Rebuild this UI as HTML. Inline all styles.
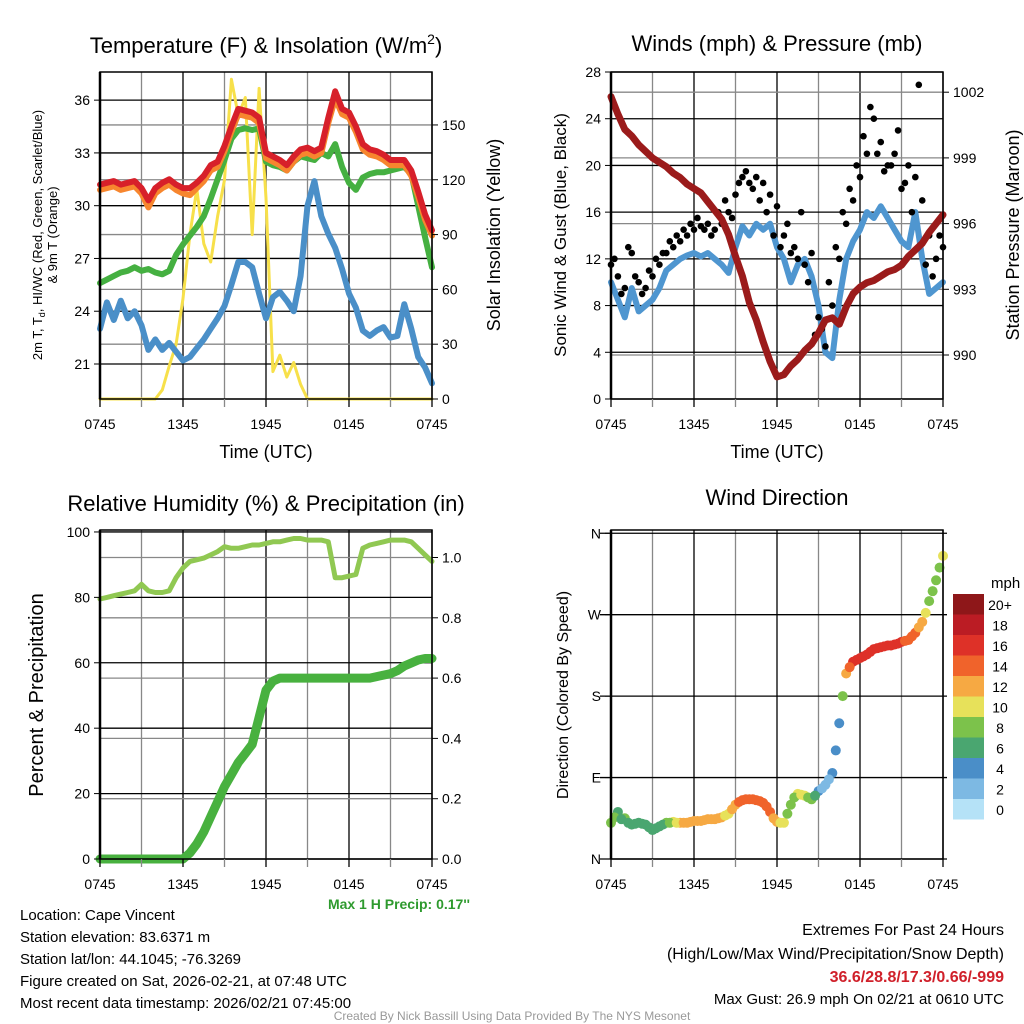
<!DOCTYPE html>
<html><head><meta charset="utf-8"><style>
body{margin:0;background:#fff;}
svg{display:block;font-family:"Liberation Sans",sans-serif;}
</style></head><body>
<svg id="c" width="1024" height="1024" viewBox="0 0 1024 1024" xmlns="http://www.w3.org/2000/svg">
<g id="g"></g>
<text x="266" y="53" font-size="22" text-anchor="middle">Temperature (F) &amp; Insolation (W/m<tspan dy="-9" font-size="14">2</tspan><tspan dy="9">)</tspan></text>
<text x="777" y="51" font-size="22" text-anchor="middle">Winds (mph) &amp; Pressure (mb)</text>
<text x="266" y="511" font-size="22" text-anchor="middle">Relative Humidity (%) &amp; Precipitation (in)</text>
<text x="777" y="505" font-size="22" text-anchor="middle">Wind Direction</text>
<text x="266" y="458" font-size="18" text-anchor="middle">Time (UTC)</text>
<text x="777" y="458" font-size="18" text-anchor="middle">Time (UTC)</text>
<text transform="translate(42,235) rotate(-90)" font-size="13" text-anchor="middle">2m T, T<tspan dy="3" font-size="9">d</tspan><tspan dy="-3">, HI/WC (Red, Green, Scarlet/Blue)</tspan></text>
<text transform="translate(57,235) rotate(-90)" font-size="13" text-anchor="middle">&amp; 9m T (Orange)</text>
<text transform="translate(500,235) rotate(-90)" font-size="18" text-anchor="middle">Solar Insolation (Yellow)</text>
<text transform="translate(566,235) rotate(-90)" font-size="17" text-anchor="middle">Sonic Wind &amp; Gust (Blue, Black)</text>
<text transform="translate(1019,235) rotate(-90)" font-size="18" text-anchor="middle">Station Pressure (Maroon)</text>
<text transform="translate(43,695) rotate(-90)" font-size="20" text-anchor="middle">Percent &amp; Precipitation</text>
<text transform="translate(568,695) rotate(-90)" font-size="16" text-anchor="middle">Direction (Colored By Speed)</text>
<text x="470" y="909" font-size="14" font-weight="bold" fill="#2e9a2e" text-anchor="end">Max 1 H Precip: 0.17''</text>
<g font-size="15">
<text x="20" y="920">Location: Cape Vincent</text>
<text x="20" y="942">Station elevation: 83.6371 m</text>
<text x="20" y="964">Station lat/lon: 44.1045; -76.3269</text>
<text x="20" y="986">Figure created on Sat, 2026-02-21, at 07:48 UTC</text>
<text x="20" y="1008">Most recent data timestamp: 2026/02/21 07:45:00</text>
</g>
<g font-size="16" text-anchor="end">
<text x="1004" y="935">Extremes For Past 24 Hours</text>
<text x="1004" y="959">(High/Low/Max Wind/Precipitation/Snow Depth)</text>
<text x="1004" y="982" fill="#d0202a" font-weight="bold">36.6/28.8/17.3/0.66/-999</text>
<text x="1004" y="1004" font-size="15">Max Gust: 26.9 mph On 02/21 at 0610 UTC</text>
</g>
<text x="512" y="1020" font-size="12" fill="#999" text-anchor="middle">Created By Nick Bassill Using Data Provided By The NYS Mesonet</text>
<text x="991" y="588" font-size="15">mph</text>
</svg>
<script>
const timeLabels=["0745","1345","1945","0145","0745"];
const tempRed=[31.2,31.3,31.4,31.2,31.3,31.4,31.0,30.3,31.0,31.3,31.5,31.2,31.0,31.0,31.3,31.7,32.3,32.5,33.4,34.5,35.5,35.4,35.3,35.0,33.0,32.8,32.6,32.3,32.8,33.2,33.3,33.1,33.3,35.0,36.5,35.5,35.3,34.5,33.5,33.2,33.1,32.9,32.6,32.6,32.6,32.0,30.8,29.5,28.6];
const tempOrange=[30.9,31.0,31.1,30.9,31.0,31.1,30.7,29.9,30.7,31.0,31.2,30.9,30.7,30.6,31.0,31.4,32.0,32.2,33.1,34.2,35.2,35.1,35.0,34.7,32.7,32.5,32.3,32.0,32.5,32.9,33.0,32.8,33.0,34.7,36.1,35.2,35.0,34.2,33.2,32.9,32.8,32.6,32.3,32.3,32.3,31.7,30.5,29.2,28.3];
const dewGreen=[25.6,25.8,26.0,26.2,26.3,26.5,26.3,26.4,26.2,26.1,26.3,27.2,27.8,28.3,28.8,29.4,30.4,31.5,32.6,33.8,34.3,34.4,34.3,34.4,32.5,32.3,32.2,32.0,32.5,32.8,32.7,32.6,33.0,32.8,33.5,32.2,31.3,30.9,31.6,31.8,31.9,31.9,32.0,32.1,32.2,31.8,30.0,28.2,26.5];
const windChill=[23.0,24.5,23.5,24.6,23.6,24.0,23.2,21.8,22.4,21.8,22.2,21.7,21.2,21.4,21.9,22.4,23.0,23.6,24.3,25.5,26.8,26.8,26.5,25.0,23.6,24.8,25.1,24.6,24.0,26.0,30.0,31.4,29.4,28.4,27.6,26.4,25.0,24.2,22.9,22.6,22.9,23.1,22.5,22.6,24.4,23.0,21.4,20.8,19.9];
const insolation=[0,0,0,0,0,0,0,0,0,5,18,30,55,90,115,85,75,100,120,175,155,165,90,170,110,15,24,12,20,8,0,0,0,0,0,0,0,0,0,0,0,0,0,0,0,0,0,0,0];
const windSpeed=[10.0,8.5,7.0,9.5,7.5,8.0,8.5,9.5,11.0,11.5,12.0,12.3,12.5,12.2,12.5,12.0,11.5,10.8,13.0,14.8,14.0,15.0,14.5,15.0,13.0,12.0,10.0,11.5,12.0,10.5,8.0,4.0,3.5,8.5,12.0,13.5,14.5,16.0,15.5,16.5,15.5,14.5,13.5,13.0,16.0,12.0,9.0,9.5,10.0];
const gustA=[11.5,10.5,9.5,12.5,10,9.5,10.5,11.5,12.5,13,13.5,14,14.5,14.8,15,14.5,15,16,17.5,19,18.5,19,18.5,17.5,16.5,14,12.5,12,11.5,12.5,7,4.5,8,12,15,17,19,21,24,22,20,21,18,20,19,17,14,12,13];
const gustB=[12,9,13,10.5,9,11,12,12.5,13.5,14,14.5,15,15.5,14.5,14,16,17,15.5,18.5,19.5,18,17,16,14,13,15,13,16,10,5.5,6,10,13,16,18,20,22.5,25,21,19.5,20,23,18.5,16,26.9,11.5,10.5,14];
const pressure=[1001.8,1001.0,1000.3,1000.0,999.6,999.3,999.0,998.8,998.6,998.3,998.1,997.8,997.6,997.4,997.0,996.6,996.2,995.5,994.5,993.6,992.4,991.6,990.6,989.7,989.0,989.1,989.5,989.8,990.2,990.5,991.0,991.6,991.7,991.4,992.2,992.8,993.1,993.3,993.4,993.6,993.8,993.9,994.1,994.5,994.8,995.1,995.6,996.0,996.4];
const relHum=[79.5,80,80.5,81,81.5,82,84,82,81.5,81.5,82,86,89,91,91.5,92,93,94,95.5,95,95,95.5,96,96,96.5,97,97,97.5,98,98,97.5,97.5,97.5,97,86,86,86.5,87,95,96,96.5,97,97.5,97.5,97.5,97,95,93,91];
const precip=[0,0,0,0,0,0,0,0,0,0,0,0,0,0.02,0.05,0.09,0.14,0.19,0.24,0.28,0.32,0.35,0.38,0.47,0.56,0.59,0.6,0.6,0.6,0.6,0.6,0.6,0.6,0.6,0.6,0.6,0.6,0.6,0.6,0.6,0.605,0.61,0.615,0.625,0.64,0.65,0.66,0.665,0.665];
const windDir=[40,52,45,38,40,38,32,36,40,41,40,40,42,42,44,44,46,50,60,65,66,65,62,52,41,40,60,72,70,66,75,82,95,150,205,218,222,226,232,234,236,237,240,242,250,262,285,308,335];
const windDirB=[46,44,40,39,39,35,34,38,40,40,40,41,42,43,44,45,48,55,63,66,66,64,58,45,40,50,68,71,68,70,78,88,120,180,212,220,224,229,233,235,236,238,241,246,256,272,296,322];
const dirSpeed=[9,7,8,7,6.5,7,7.5,7,8,10.5,12.5,12.5,12.5,12.5,12.5,12.5,12,11,13,14.5,14.5,14.5,14.5,14.5,12.5,10,8,10.5,10,8.5,4,3,4.5,5,12.5,16.5,16.5,17,17,17,16.5,16.5,16,15,14,12,8.5,8,10];
const dirSpeedB=[8,7.5,7,6.5,7,7,7,7.5,9,11.5,12.5,12.5,12.5,12.5,12.5,12,11.5,12,14,14.5,14.5,14.5,14.5,13,11,9,9,10,9.5,7,3.5,3,4,8,14,16.5,17,17,17,16.5,16.5,16.5,15.5,14.5,13,10,8,9];
const tempTicks=[21,24,27,30,33,36];
const insTicks=[0,30,60,90,120,150];
const windTicks=[0,4,8,12,16,20,24,28];
const presTicks=[990,993,996,999,1002];
const rhTicks=[0,20,40,60,80,100];
const precipTicks=["0.0","0.2","0.4","0.6","0.8","1.0"];
const dirTicks=["N","E","S","W","N"];
const speedBins=["0","2","4","6","8","10","12","14","16","18","20+"];
const binColors=["#b5e2f7","#7db9e3","#4a8ec8","#4aa670","#7cc24b","#e7e15a","#f6a943","#f0632b","#de3128","#bb1c24","#8e1719"];

const NS="http://www.w3.org/2000/svg";
const G=document.getElementById('g');
function mk(t,a,parent){const e=document.createElementNS(NS,t);for(const k in a)e.setAttribute(k,a[k]);(parent||G).appendChild(e);return e;}
function P(x0,x1,y0,y1,lo,hi){return{x:i=>x0+(x1-x0)*i/48,y:v=>y1-(v-lo)*(y1-y0)/(hi-lo),x0,x1,y0,y1};}
function grid(p,leftVals,ly,rightVals,ry){
  for(let k=0;k<=8;k++){const x=p.x0+(p.x1-p.x0)*k/8;
    const l=mk('line',{x1:x,x2:x,y1:p.y0,y2:p.y1,stroke:k%2?'#888':'#000','stroke-width':1.3});
    }
  if(rightVals)rightVals.forEach(v=>{const y=ry(v);const l=mk('line',{x1:p.x0,x2:p.x1,y1:y,y2:y,stroke:'#888','stroke-width':1.3});
    });
  leftVals.forEach(v=>{const y=ly(v);const l=mk('line',{x1:p.x0,x2:p.x1,y1:y,y2:y,stroke:'#000','stroke-width':1.3});
    });
}
function frame(p){const r=mk('rect',{x:p.x0,y:p.y0,width:p.x1-p.x0,height:p.y1-p.y0,fill:'none',stroke:'#000','stroke-width':1.5});
  
  mk('line',{x1:p.x0,x2:p.x0,y1:p.y0,y2:p.y1,stroke:'#000','stroke-width':2.5});
  for(let k=0;k<=8;k++){const x=p.x0+(p.x1-p.x0)*k/8;mk('line',{x1:x,x2:x,y1:p.y1,y2:p.y1+8,stroke:k%2?'#888':'#000','stroke-width':1.3});}
  timeLabels.forEach((t,k)=>{const x=p.x0+(p.x1-p.x0)*k/4;
    const tx=mk('text',{x:x,y:p.y1+30,'font-size':14,'text-anchor':'middle'});tx.textContent=t;
    });
}
function ticksL(p,vals,fy,labels){vals.forEach((v,i)=>{const y=fy(v);mk('line',{x1:p.x0-6,x2:p.x0,y1:y,y2:y,stroke:'#000'});
  const t=mk('text',{x:p.x0-10,y:y+5,'font-size':14,'text-anchor':'end'});t.textContent=labels?labels[i]:v;
  });}
function ticksR(p,vals,fy,labels){vals.forEach((v,i)=>{const y=fy(v);mk('line',{x1:p.x1,x2:p.x1+6,y1:y,y2:y,stroke:'#000'});
  const t=mk('text',{x:p.x1+10,y:y+5,'font-size':14,'text-anchor':'start'});t.textContent=labels?labels[i]:v;
  });}
function line(p,arr,fy,col,w,name){const d=arr.map((v,i)=>(i?'L':'M')+p.x(i).toFixed(1)+','+fy(v).toFixed(1)).join('');
  const e=mk('path',{d:d,fill:'none',stroke:col,'stroke-width':w,'stroke-linejoin':'round','stroke-linecap':'round'});
  return e;}

// Panel 1
const p1=P(100,432,72,399,19.01,37.6);
const y1r=v=>399-v*1.827;
grid(p1,tempTicks,p1.y,insTicks,y1r);
line(p1,insolation,y1r,'#f7e04a',3,'insolation-line');
line(p1,windChill,p1.y,'#4a8fc8',6,'windchill-line');
line(p1,dewGreen,p1.y,'#45b041',6,'dewpoint-line');
line(p1,tempOrange,p1.y,'#f7862e',6,'temp9m-line');
line(p1,tempRed,p1.y,'#d7202a',6,'temp2m-line');
frame(p1);ticksL(p1,tempTicks,p1.y);ticksR(p1,insTicks,y1r);

// Panel 2
const p2=P(611,943,72,399,0,28);
const y2r=v=>355-(v-990)*21.9;
grid(p2,windTicks,p2.y,presTicks,y2r);
line(p2,windSpeed,p2.y,'#4f96d0',6,'wind-speed-line');
gustA.forEach((v,i)=>{const c=mk('circle',{cx:p2.x(i),cy:p2.y(v),r:3.3,fill:'#000'});
  });
gustB.forEach((v,i)=>{const c=mk('circle',{cx:p2.x(i+0.5),cy:p2.y(v),r:3.3,fill:'#000'});
  });
line(p2,pressure,y2r,'#9b1b1b',7,'pressure-line');
frame(p2);ticksL(p2,windTicks,p2.y);ticksR(p2,presTicks,y2r);

// Panel 3
const p3=P(100,432,530,859,0,100.6);
const y3r=v=>859-v*301.5;
const prVals=precipTicks.map(Number);
grid(p3,rhTicks,p3.y,prVals,y3r);
line(p3,relHum,p3.y,'#90c852',5,'rh-line');
line(p3,precip,y3r,'#48b13f',9,'precip-line');
frame(p3);ticksL(p3,rhTicks,p3.y);ticksR(p3,prVals,y3r,precipTicks);

// Panel 4
const p4=P(611,943,530,859,0,363.6);
const dirVals=[0,90,180,270,360];
grid(p4,[],p4.y,null,null);
dirVals.forEach(v=>{const y=p4.y(v);const l=mk('line',{x1:600,x2:947,y1:y,y2:y,stroke:'#000','stroke-width':1.3});
  });
function binOf(s){return Math.min(10,Math.max(0,Math.floor(s/2)));}
windDir.forEach((d,i)=>{const c=mk('circle',{cx:p4.x(i),cy:p4.y(d),r:5,fill:binColors[binOf(dirSpeed[i])]});
  });
windDirB.forEach((d,i)=>{const c=mk('circle',{cx:p4.x(i+0.5),cy:p4.y(d),r:5,fill:binColors[binOf(dirSpeedB[i])]});
  });
frame(p4);ticksL(p4,dirVals,p4.y,dirTicks);
// colorbar
speedBins.forEach((lab,k)=>{const top=594+(10-k)*20.5;
  const r=mk('rect',{x:953,y:top,width:31,height:20.5,fill:binColors[k]});
  
  const t=mk('text',{x:1000,y:top+16,'font-size':14,'text-anchor':'middle'});t.textContent=lab;
  });
</script>
</body></html>
